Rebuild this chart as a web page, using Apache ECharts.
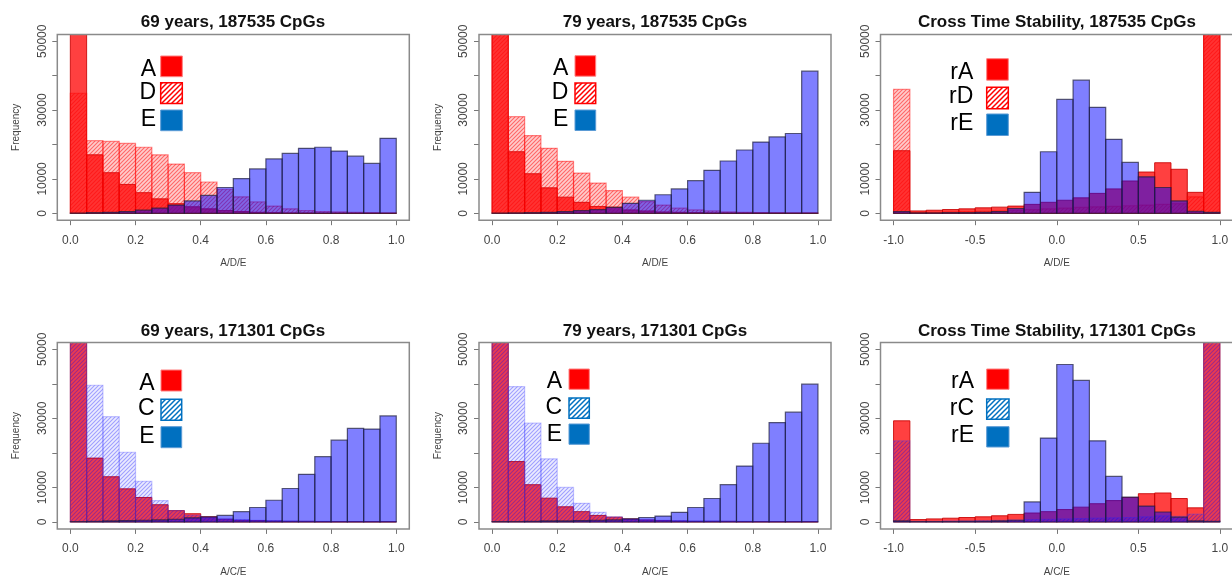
<!DOCTYPE html>
<html><head><meta charset="utf-8">
<script src="https://cdn.jsdelivr.net/npm/echarts@6/dist/echarts.min.js"></script>
<style>html,body{margin:0;padding:0;background:#fff}#c{width:1232px;height:578px}</style>
</head><body><div id="c"></div>
<script>
// ---------- data ----------
const edgesAge = [0,0.05,0.1,0.15,0.2,0.25,0.3,0.35,0.4,0.45,0.5,0.55,0.6,0.65,0.7,0.75,0.8,0.85,0.9,0.95,1.0];
const edgesCross = [-1,-0.9,-0.8,-0.7,-0.6,-0.5,-0.4,-0.3,-0.2,-0.1,0,0.1,0.2,0.3,0.4,0.5,0.6,0.7,0.8,0.9,1.0];
const xTicksAge = [0,0.2,0.4,0.6,0.8,1.0];
const xTicksCross = [-1,-0.5,0,0.5,1];
const yTicks = [0,10000,20000,30000,40000,50000];
const yTickLabels = [0,10000,30000,50000];
const titles = ['69 years, 187535 CpGs','79 years, 187535 CpGs','Cross Time Stability, 187535 CpGs',
                '69 years, 171301 CpGs','79 years, 171301 CpGs','Cross Time Stability, 171301 CpGs'];

// 69 years, 187535 CpGs
const A1 = [132000,17000,11800,8400,6000,4200,2800,1900,1300,800,500,300,200,100,80,60,40,30,20,10];
const D1 = [34900,21100,20900,20300,19200,17000,14300,11800,9100,7000,4800,3300,2100,1300,800,500,400,300,200,100];
const E1 = [50,200,300,500,900,1500,2400,3600,5200,7500,10100,12900,15800,17400,18900,19200,18100,16600,14500,21800];
// 79 years, 187535 CpGs
const A2 = [135700,17900,11500,7400,4700,3200,2000,1800,1000,700,400,300,200,100,100,100,100,50,50,50];
const D2 = [60700,28100,22600,18900,15100,11700,8800,6600,4700,3400,2400,1500,1000,700,400,300,200,200,100,100];
const E2 = [50,100,200,300,500,800,1100,1700,2900,3800,5400,7100,9500,12500,15200,18400,20700,22200,23200,41300];
// Cross time, 187535 CpGs
const rA3 = [18200,700,900,1100,1300,1600,1800,2100,2600,3200,3800,4500,5800,7100,9400,12000,14700,12800,6100,77800];
const rD3 = [36000,300,300,400,500,600,700,900,1100,1300,1500,1700,1900,2000,2200,2400,2600,2800,4800,121000];
const rE3 = [500,100,100,200,200,300,500,1400,6100,17900,33100,38700,30800,21500,14800,10600,7500,3600,600,300];
// 69 years, 171301 CpGs
const A4 = [107800,18500,13100,9600,7100,5000,3300,2400,1500,800,500,400,300,200,200,100,100,100,100,100];
const C4 = [53000,39600,30500,20200,11800,6200,3300,2000,1200,900,700,500,400,300,200,200,100,100,100,100];
const E4 = [100,200,300,400,500,600,800,1200,1500,1900,3000,4200,6300,9700,13800,18900,23700,27100,26900,30700];
// 79 years, 171301 CpGs
const A5 = [122000,17500,10800,6900,4400,3000,1900,1400,900,600,400,300,200,200,200,100,100,100,100,100];
const C5 = [61700,39200,28600,18300,10000,5400,2800,1500,900,600,500,400,300,300,200,200,100,100,100,100];
const E5 = [100,100,200,300,300,400,500,600,900,1300,1700,2800,4200,6800,10800,16200,22800,28800,31800,39900];
// Cross time, 171301 CpGs
const rA6 = [29300,700,900,1100,1300,1500,1800,2200,2600,3000,3600,4300,5300,6200,7100,8200,8400,6800,4100,72900];
const rC6 = [23500,200,200,300,300,400,500,600,700,800,900,1000,1100,1200,1300,1500,1800,1600,2300,131000];
const rE6 = [300,100,100,100,200,200,300,500,5800,24300,45600,41000,23500,13200,7200,4600,2900,1400,300,200];

// ---------- styling helpers ----------
const FONT = 'Liberation Sans, Arial, Helvetica, sans-serif';
function makePattern(color, size, lw, bg) {
  const c = document.createElement('canvas'); c.width = size; c.height = size;
  const ctx = c.getContext('2d');
  if (bg) { ctx.fillStyle = bg; ctx.fillRect(0,0,size,size); }
  ctx.strokeStyle = color; ctx.lineWidth = lw; ctx.beginPath();
  ctx.moveTo(0,size); ctx.lineTo(size,0);
  ctx.moveTo(-size/2,size/2); ctx.lineTo(size/2,-size/2);
  ctx.moveTo(size/2,size*1.5); ctx.lineTo(size*1.5,size/2);
  ctx.stroke();
  return {image: c, repeat: 'repeat'};
}
const STY = {
  solidRed: {fill:'rgba(255,0,0,0.75)', stroke:'rgba(200,0,0,0.85)', lineWidth:1},
  hatchRed: {fill: makePattern('rgba(255,0,0,0.5)',4,1.1,'rgba(255,0,0,0.2)'), stroke:'rgba(255,0,0,0.45)', lineWidth:1.2},
  hatchBlue:{fill: makePattern('rgba(0,0,255,0.33)',4,1.1,'rgba(0,0,255,0.08)'), stroke:'rgba(70,70,255,0.3)', lineWidth:1.2},
  blue:     {fill:'rgba(0,0,255,0.5)', stroke:'rgba(30,30,60,0.7)', lineWidth:1.2}
};
const LEG = {
  solidRed: {fill:'#ff0000', stroke:'#ff8080', lineWidth:1},
  hatchRed: {fill: makePattern('#ff0000',5,1.5,'#ffffff'), stroke:'#ff0000', lineWidth:1.5},
  hatchBlue:{fill: makePattern('#0070c0',5,1.5,'#ffffff'), stroke:'#0070c0', lineWidth:1.5},
  blue:     {fill:'#0070c0', stroke:'#5b9bd5', lineWidth:1}
};

const panels = [
  {grid:{left:57.3, top:34.4, width:352, height:185.8}, edges:edgesAge, ticks:xTicksAge, xmin:-0.04, xmax:1.04, xname:'A/D/E', yname:'Frequency',
   series:[['A',A1,'solidRed'],['D',D1,'hatchRed'],['E',E1,'blue']],
   leg:{tx:156, bx:160.7, bw:21.6, bh:20.7, by:[56,82.7,110], ty:[69.2,93,119.5]}, tcx:233, tcy:22.5},
  {grid:{left:479, top:34.4, width:352, height:185.8}, edges:edgesAge, ticks:xTicksAge, xmin:-0.04, xmax:1.04, xname:'A/D/E', yname:'Frequency',
   series:[['A',A2,'solidRed'],['D',D2,'hatchRed'],['E',E2,'blue']],
   leg:{tx:568.3, bx:575, bw:20.7, bh:20.5, by:[55.7,83,110], ty:[69,93,120]}, tcx:655, tcy:22.5},
  {grid:{left:880.5, top:34.4, width:352.5, height:185.8}, edges:edgesCross, ticks:xTicksCross, xmin:-1.08, xmax:1.08, xname:'A/D/E', yname:'',
   series:[['rA',rA3,'solidRed'],['rD',rD3,'hatchRed'],['rE',rE3,'blue']],
   leg:{tx:973.3, bx:986.7, bw:21.6, bh:21.5, by:[58.7,87.3,114], ty:[73,97,123.7]}, tcx:1057, tcy:22.5},
  {grid:{left:57.3, top:342.4, width:352, height:186.5}, edges:edgesAge, ticks:xTicksAge, xmin:-0.04, xmax:1.04, xname:'A/C/E', yname:'Frequency',
   series:[['A',A4,'solidRed'],['C',C4,'hatchBlue'],['E',E4,'blue']],
   leg:{tx:154.5, bx:161, bw:20.7, bh:21, by:[370,399.3,426.7], ty:[383.8,409,436.7]}, tcx:233, tcy:331},
  {grid:{left:479, top:342.4, width:352, height:186.5}, edges:edgesAge, ticks:xTicksAge, xmin:-0.04, xmax:1.04, xname:'A/C/E', yname:'Frequency',
   series:[['A',A5,'solidRed'],['C',C5,'hatchBlue'],['E',E5,'blue']],
   leg:{tx:562, bx:569, bw:20.3, bh:20.3, by:[369,398,424], ty:[382,408,434.3]}, tcx:655, tcy:331},
  {grid:{left:880.5, top:342.4, width:352.5, height:186.5}, edges:edgesCross, ticks:xTicksCross, xmin:-1.08, xmax:1.08, xname:'A/C/E', yname:'',
   series:[['rA',rA6,'solidRed'],['rC',rC6,'hatchBlue'],['rE',rE6,'blue']],
   leg:{tx:974, bx:986.7, bw:22.3, bh:20.3, by:[369,399,426.7], ty:[382,408.3,436]}, tcx:1057, tcy:331}
];

function barRenderer(style) {
  return function (params, api) {
    const p0 = api.coord([api.value(0), 0]);
    const p1 = api.coord([api.value(1), api.value(2)]);
    return {type:'rect', shape:{x:p0[0], y:p1[1], width:p1[0]-p0[0], height:p0[1]-p1[1]},
            style: Object.assign({}, style)};
  };
}

const grids = [], xAxes = [], yAxes = [], series = [], graphics = [];
panels.forEach((p, i) => {
  grids.push(Object.assign({show:true, borderColor:'#8a8a8a', borderWidth:1.5, backgroundColor:'transparent', z:10, outerBoundsMode:'none', containLabel:false}, p.grid));
  xAxes.push({type:'value', gridIndex:i, min:p.xmin, max:p.xmax,
    axisLine:{show:false, onZero:false}, splitLine:{show:false},
    axisTick:{show:true, customValues:p.ticks, length:5, lineStyle:{color:'#777', width:1}},
    axisLabel:{customValues:p.ticks, formatter:v => Number(v).toFixed(1), margin:14, fontSize:12, color:'#444', fontFamily:FONT},
    name:p.xname, nameLocation:'middle', nameGap:38, nameTextStyle:{fontSize:10, color:'#444', fontFamily:FONT}});
  yAxes.push({type:'value', gridIndex:i, min:-2000, max:52000,
    axisLine:{show:false, onZero:false}, splitLine:{show:false},
    axisTick:{show:true, customValues:yTicks, length:5, lineStyle:{color:'#777', width:1}},
    axisLabel:{customValues:yTickLabels, formatter:v => String(v), rotate:90, margin:9, fontSize:12, color:'#444', fontFamily:FONT},
    name:p.yname, nameLocation:'middle', nameGap:36, nameTextStyle:{fontSize:10, color:'#444', fontFamily:FONT}});
  p.series.forEach(s => {
    const vals = s[1];
    const data = vals.map((v, k) => [p.edges[k], p.edges[k+1], v]);
    series.push({type:'custom', name:s[0], xAxisIndex:i, yAxisIndex:i, clip:true,
      encode:{x:[0,1], y:2}, data:data, renderItem:barRenderer(STY[s[2]]), silent:true});
  });
  graphics.push({type:'text', z:20, style:{text:titles[i], x:p.tcx, y:p.tcy, align:'center', verticalAlign:'middle',
    fontSize:17, fontWeight:'bold', fontFamily:FONT, fill:'#111'}});
  p.series.forEach((s, k) => {
    graphics.push({type:'text', z:20, style:{text:s[0], x:p.leg.tx, y:p.leg.ty[k], align:'right', verticalAlign:'middle',
      fontSize:23, fontFamily:FONT, fill:'#000'}});
    graphics.push({type:'rect', z:20, shape:{x:p.leg.bx, y:p.leg.by[k], width:p.leg.bw, height:p.leg.bh},
      style:Object.assign({}, LEG[s[2]])});
  });
});

const chart = echarts.init(document.getElementById('c'), null, {renderer:'canvas'});
chart.setOption({animation:false, backgroundColor:'#fff', grid:grids, xAxis:xAxes, yAxis:yAxes, series:series, graphic:graphics});
</script></body></html>
